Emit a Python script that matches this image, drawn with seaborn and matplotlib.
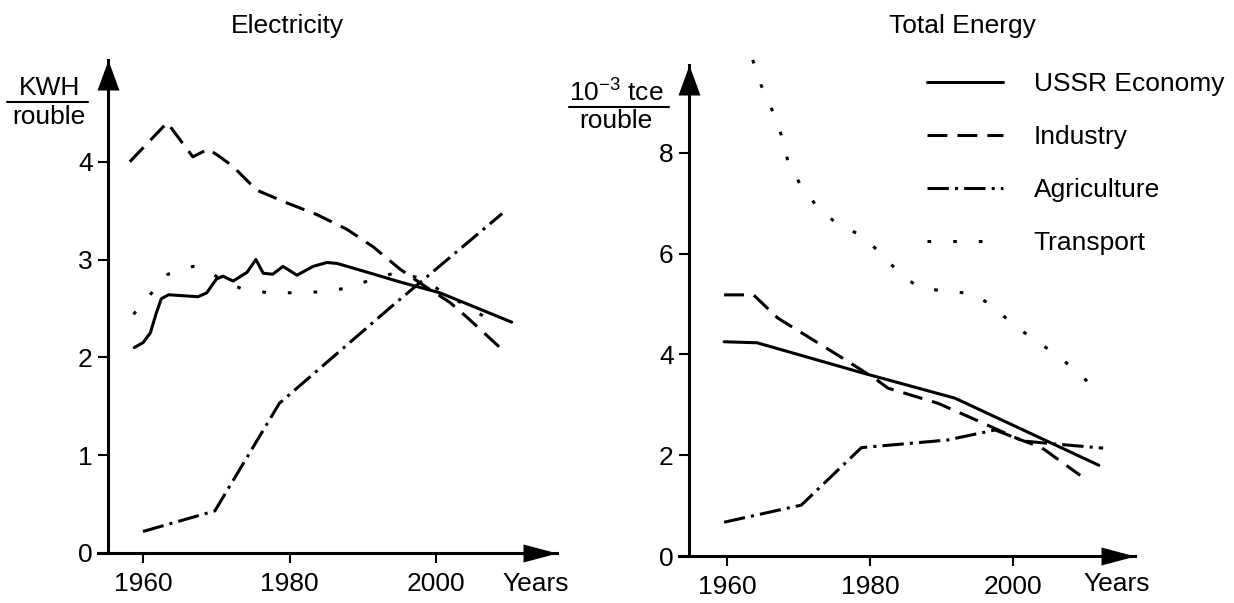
import numpy as np
import pandas as pd
import matplotlib
matplotlib.use("Agg")
import matplotlib.pyplot as plt
import seaborn as sns
from matplotlib.lines import Line2D

# ---------------- data ----------------
series_names = ["USSR Economy", "Industry", "Agriculture", "Transport"]

# Electricity, KWH / rouble
elec_econ_year = [1958.8, 1960.0, 1961.0, 1961.8, 1962.5, 1963.5, 1965.5, 1967.5, 1968.7, 1970.0,
                  1970.9, 1972.3, 1974.2, 1975.4, 1976.4, 1977.7, 1979.1, 1981.0, 1983.2, 1985.1,
                  1986.5, 1990.6, 1995.1, 2000.5, 2010.3]
elec_econ_val = [2.10, 2.15, 2.25, 2.45, 2.60, 2.64, 2.63, 2.62, 2.66, 2.80,
                 2.83, 2.78, 2.87, 3.00, 2.86, 2.85, 2.93, 2.84, 2.93, 2.97,
                 2.96, 2.87, 2.77, 2.66, 2.36]

elec_ind_year = [1958.2, 1963.3, 1966.8, 1968.9, 1970.5, 1972.3, 1975.5, 1979.6, 1983.7, 1987.8,
                 1991.4, 1995.1, 1998.2, 2001.9, 2004.2, 2008.7]
elec_ind_val = [4.00, 4.40, 4.05, 4.13, 4.05, 3.95, 3.71, 3.58, 3.46, 3.31,
                3.13, 2.90, 2.74, 2.56, 2.41, 2.10]

elec_agr_year = [1960.0, 1969.8, 1978.6, 1993.9, 2009.0]
elec_agr_val = [0.22, 0.43, 1.53, 2.52, 3.47]

elec_tra_year = [1958.7, 1961.2, 1963.4, 1966.8, 1968.5, 1971.0, 1973.5, 1977.1, 1980.7, 1984.4,
                 1988.0, 1991.7, 1994.8, 1998.2, 2001.2, 2004.3, 2008.2]
elec_tra_val = [2.44, 2.66, 2.85, 2.93, 2.90, 2.78, 2.70, 2.66, 2.66, 2.67,
                2.71, 2.81, 2.87, 2.80, 2.65, 2.52, 2.34]

# Total energy, 10^-3 tce / rouble
tot_econ_year = [1959.6, 1964.2, 1979.0, 1991.9, 2012.0]
tot_econ_val = [4.25, 4.23, 3.63, 3.13, 1.80]

tot_ind_year = [1959.6, 1963.7, 1967.1, 1976.8, 1980.9, 1982.5, 1989.5, 1994.8, 2000.6, 2004.0, 2009.4]
tot_ind_val = [5.18, 5.18, 4.72, 3.87, 3.50, 3.33, 3.03, 2.70, 2.33, 2.15, 1.60]

tot_agr_year = [1959.6, 1970.4, 1978.8, 1990.8, 1997.5, 2001.5, 2006.0, 2012.6]
tot_agr_val = [0.67, 1.01, 2.15, 2.30, 2.50, 2.28, 2.22, 2.14]

tot_tra_year = [1963.6, 1964.8, 1966.3, 1967.6, 1968.5, 1970.2, 1972.6, 1975.3, 1978.6, 1981.5,
                1984.1, 1986.8, 1990.5, 1994.3, 1997.5, 2000.0, 2003.1, 2006.2, 2009.1, 2011.7]
tot_tra_val = [9.84, 9.33, 8.85, 8.35, 7.84, 7.38, 6.93, 6.60, 6.37, 6.01,
               5.61, 5.33, 5.25, 5.21, 4.93, 4.58, 4.29, 3.97, 3.65, 3.27]

x_ticks = [1960, 1980, 2000]
elec_y_ticks = [0, 1, 2, 3, 4]
tot_y_ticks = [0, 2, 4, 6, 8]

# ---------------- style ----------------
sns.set_theme(style="ticks")
plt.rcParams['font.family'] = ['Liberation Sans', 'DejaVu Sans']
plt.rcParams['mathtext.fontset'] = 'custom'
plt.rcParams['mathtext.rm'] = 'Liberation Sans'
plt.rcParams['mathtext.it'] = 'Liberation Sans:italic'
plt.rcParams['mathtext.default'] = 'regular'
plt.rcParams['text.color'] = 'black'
plt.rcParams['xtick.color'] = 'black'
plt.rcParams['ytick.color'] = 'black'
plt.rcParams['axes.labelcolor'] = 'black'

FS = 19
LW = 2.2
dash_styles = {
    "USSR Economy": None,
    "Industry": (6.5, 3.3),
    "Agriculture": (7, 2, 1, 2),
    "Transport": (1.2, 7.2),
}

W, H = 1234, 603
fig = plt.figure(figsize=(W / 100, H / 100), dpi=100)
fig.patch.set_facecolor("white")


def px_axes(left, right, bottom, top):
    return fig.add_axes([left / W, (H - bottom) / H, (right - left) / W, (bottom - top) / H])


def fx(px):
    return px / W


def fy(py):
    return (H - py) / H


ax1 = px_axes(98, 557, 553, 60)
ax2 = px_axes(679, 1135, 556, 65)

panels = [
    (ax1, [(elec_econ_year, elec_econ_val), (elec_ind_year, elec_ind_val),
           (elec_agr_year, elec_agr_val), (elec_tra_year, elec_tra_val)],
     (1953.86, 2016.48), 1955.2, (0, 5.04), elec_y_ticks),
    (ax2, [(tot_econ_year, tot_econ_val), (tot_ind_year, tot_ind_val),
           (tot_agr_year, tot_agr_val), (tot_tra_year, tot_tra_val)],
     (1953.29, 2017.06), 1954.69, (0, 9.74), tot_y_ticks),
]

x_arrow = [(0, 0), (-34, -9), (-34, 9), (0, 0)]
y_arrow = [(0, 0), (-11, -30), (11, -30), (0, 0)]

for ax, data, xlim, yspine, ylim, yticks in panels:
    for name, (xs, ys) in zip(series_names, data):
        df = pd.DataFrame({"year": xs, "value": ys})
        sns.lineplot(data=df, x="year", y="value", ax=ax, color="black",
                     linewidth=LW, estimator=None, sort=False, legend=False)
        ln = ax.lines[-1]
        ln.set_clip_on(False)
        if dash_styles[name] is not None:
            ln.set_dashes(dash_styles[name])
            ln.set_dash_capstyle("butt")
    ax.set_xlim(*xlim)
    ax.set_ylim(*ylim)
    ax.set_xticks(x_ticks)
    ax.set_yticks(yticks)
    ax.set_xlabel("")
    ax.set_ylabel("")
    for s in ["top", "right"]:
        ax.spines[s].set_visible(False)
    ax.spines["left"].set_position(("data", yspine))
    ax.spines["left"].set_linewidth(LW)
    ax.spines["bottom"].set_linewidth(LW)
    ax.spines["left"].set_color("black")
    ax.spines["bottom"].set_color("black")
    ax.tick_params(axis="both", direction="out", length=7, width=1.5, colors="black",
                   labelsize=FS)
    ax.tick_params(axis="y", pad=4)
    ax.tick_params(axis="x", pad=7)
    ax.set_facecolor("white")
    ax.plot([xlim[1]], [0], marker=x_arrow, ms=48.96, color="black", mew=0,
            clip_on=False, zorder=5)
    ax.plot([yspine], [ylim[1]], marker=y_arrow, ms=43.2, color="black", mew=0,
            clip_on=False, zorder=5)

# titles
fig.text(fx(287), fy(26), "Electricity", ha="center", va="center", fontsize=FS)
fig.text(fx(962), fy(26), "Total Energy", ha="center", va="center", fontsize=FS)

# "Years" labels
fig.text(fx(502), fy(584), "Years", ha="left", va="center", fontsize=FS)
fig.text(fx(1083), fy(584), "Years", ha="left", va="center", fontsize=FS)

# y unit fractions
fig.text(fx(50), fy(88), "KWH", ha="center", va="center", fontsize=FS)
fig.add_artist(Line2D([fx(7), fx(88)], [fy(102), fy(102)], color="black", lw=1.5))
fig.text(fx(49), fy(117), "rouble", ha="center", va="center", fontsize=FS)

fig.text(fx(616), fy(93), r"10$^{-3}$ tce", ha="center", va="center", fontsize=FS)
fig.add_artist(Line2D([fx(569), fx(669)], [fy(107), fy(107)], color="black", lw=1.5))
fig.text(fx(616), fy(121), "rouble", ha="center", va="center", fontsize=FS)

# legend
handles = ax2.lines[:4]
ax2.legend(handles, series_names, loc="upper left",
           bbox_to_anchor=(fx(927), fy(72)), bbox_transform=fig.transFigure,
           frameon=False, fontsize=FS, handlelength=2.88, handletextpad=1.17,
           labelspacing=1.1, borderpad=0, borderaxespad=0)

fig.savefig("out.png", dpi=100, facecolor="white")
